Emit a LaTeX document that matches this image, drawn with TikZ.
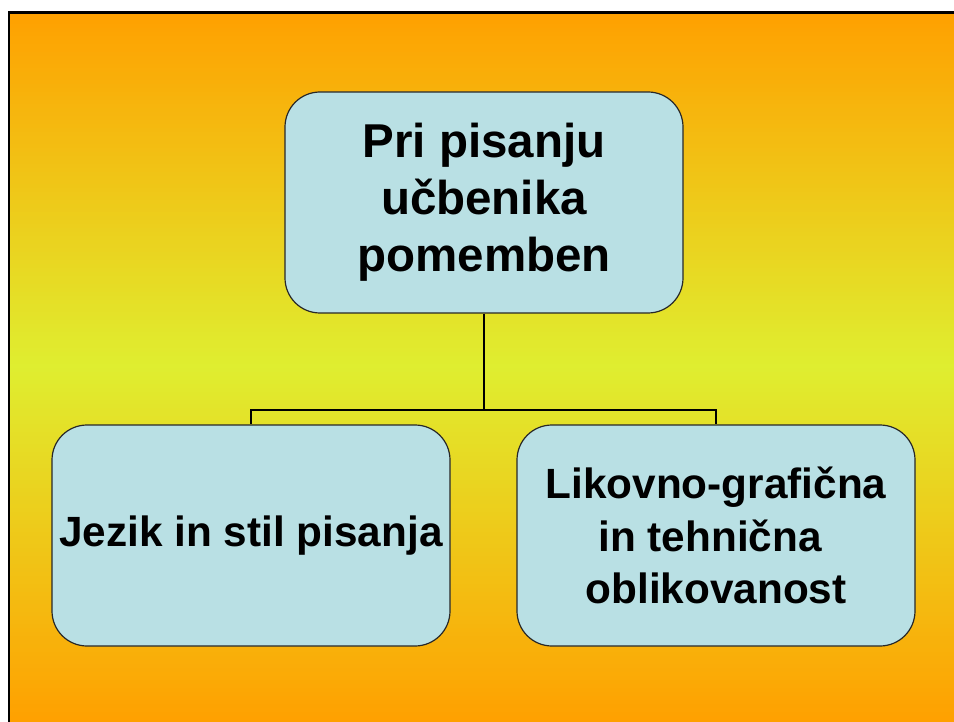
\documentclass[tikz,border=0pt]{standalone}
\usepackage{fontspec}
\setmainfont{Liberation Sans}
\definecolor{boxfill}{RGB}{185,224,228}
\definecolor{orangetop}{RGB}{255,160,0}
\definecolor{midyellow}{RGB}{223,238,48}
\definecolor{boxline}{RGB}{40,40,40}
\begin{document}
\begin{tikzpicture}[x=1pt,y=-1pt,
  box/.style={draw=boxline, line width=1.2pt, fill=boxfill, rounded corners=35pt,
    inner sep=0pt, align=center, text=black},
  conn/.style={draw=black, line width=2.6pt}]
\fill[white] (0,0) rectangle (954,722);
\foreach \i in {0,...,177} {
  \pgfmathsetmacro{\ya}{12+4*\i}
  \pgfmathsetmacro{\yb}{min(722,\ya+4.6)}
  \pgfmathsetmacro{\mixv}{min(100,abs(\ya+2-367)/355*100)}
  \fill[orangetop!\mixv!midyellow] (9,\ya) rectangle (954,\yb);
}
\fill[black] (7.7,11.2) rectangle (10.3,722);
\fill[black] (7.7,11.2) rectangle (954,13.8);
\node[box, minimum width=398pt, minimum height=221pt,
  font=\fontsize{47.5}{57}\selectfont\bfseries] (top) at (484,202.5)
  {Pri pisanju\\učbenika\\pomemben};
\node[box, minimum width=398pt, minimum height=221pt,
  font=\fontsize{42.3}{52}\selectfont\bfseries] (left) at (251,535.5)
  {Jezik in stil pisanja};
\node[box, minimum width=398pt, minimum height=221pt,
  font=\fontsize{42.3}{52.5}\selectfont\bfseries] (right) at (716,535.5)
  {Likovno-grafična\\in tehnična\kern0.28em\\oblikovanost};
\coordinate (bus) at (484,410);
\draw[conn] (top.south) -- (bus) -| (left.north);
\draw[conn] (bus) -| (right.north);
\useasboundingbox (0,0) rectangle (954,722);
\end{tikzpicture}
\end{document}
